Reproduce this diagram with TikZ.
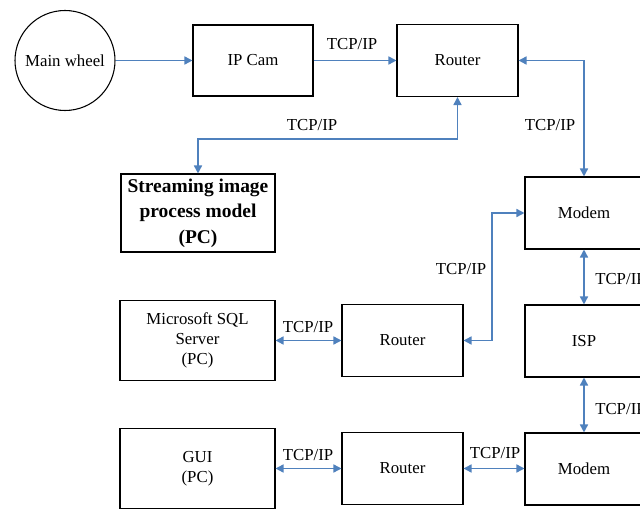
\documentclass[tikz,border=0pt]{standalone}
\usepackage{fontspec}
\setmainfont{Liberation Serif}
\newfontfamily\tnr{Liberation Serif}
\usetikzlibrary{arrows.meta,calc}
\definecolor{lnblue}{RGB}{79,129,189}
\tikzset{
  blk/.style={draw=black, line width=0.8pt, align=center, inner sep=0pt,
    font=\tnr\fontsize{12.6}{14.8}\selectfont},
  link/.style={draw=lnblue, line width=1.2pt, {Triangle[length=6pt,width=6pt]}-{Triangle[length=6pt,width=6pt]}},
  fwd/.style={draw=lnblue, line width=1.2pt, -{Triangle[length=6pt,width=6pt]}},
  lbl/.style={font=\tnr\fontsize{12.6}{14.8}\selectfont, inner sep=0pt}
}
\begin{document}
\begin{tikzpicture}[x=0.75pt,y=-0.75pt]
\clip (0,0) rectangle (640,509);
\fill[white] (0,0) rectangle (640,509);
% nodes
\node[blk, circle, minimum size=75pt] (wheel) at (65,60.5) {Main wheel};
\node[blk, minimum width=90pt, minimum height=53.25pt] (ipcam) at (253,60.5) {IP Cam};
\node[blk, minimum width=90.75pt, minimum height=54pt] (r1) at (457.5,60.5) {Router};
\node[blk, minimum width=115.5pt, minimum height=58.5pt, font=\tnr\bfseries\fontsize{14.6}{19}\selectfont] (stream) at (198,213) {Streaming image\\process model\\(PC)};
\node[blk, minimum width=88.5pt, minimum height=54pt] (modem1) at (584,213) {Modem};
\node[blk, minimum width=88.5pt, minimum height=54pt] (isp) at (584,341) {ISP};
\node[blk, minimum width=88.5pt, minimum height=54pt] (modem2) at (584,469) {Modem};
\node[blk, minimum width=90.75pt, minimum height=54pt] (r2) at (402.5,340.5) {Router};
\node[blk, minimum width=90.75pt, minimum height=54pt] (r3) at (402.5,468.5) {Router};
\node[blk, minimum width=116.25pt, minimum height=60pt] (sql) at (197.5,340.5) {Microsoft SQL\\Server\\(PC)};
\node[blk, minimum width=116.25pt, minimum height=60pt] (gui) at (197.5,468.5) {GUI\\(PC)};
% helper coordinates
\coordinate (k1) at (198,139);
\coordinate (k2) at (492,340.5);
% connectors
\draw[fwd] (wheel.east) -- (ipcam.west);
\draw[fwd] (ipcam.east) -- (r1.west);
\draw[link] (r1.south) |- (k1) -- (stream.north);
\draw[link] (r1.east) -| (modem1.north);
\draw[link] (r2.east) -- (k2) |- (modem1.west);
\draw[link] (modem1.south) -- (isp.north);
\draw[link] (isp.south) -- (modem2.north);
\draw[link] (sql.east) -- (r2.west);
\draw[link] (gui.east) -- (r3.west);
\draw[link] (r3.east) -- (r3.east -| modem2.west);
% labels
\node[lbl] (l1) at (352,44) {TCP/IP};
\node[lbl] (l2) at (312,125) {TCP/IP};
\node[lbl] (l3) at (550,125) {TCP/IP};
\node[lbl] (l4) at (461,269) {TCP/IP};
\node[lbl, anchor=west] (l5) at (595,279) {TCP/IP};
\node[lbl, anchor=west] (l6) at (595,409) {TCP/IP};
\node[lbl] (l7) at (308,327) {TCP/IP};
\node[lbl] (l8) at (308,455) {TCP/IP};
\node[lbl] (l9) at (495,453) {TCP/IP};
\end{tikzpicture}
\end{document}
